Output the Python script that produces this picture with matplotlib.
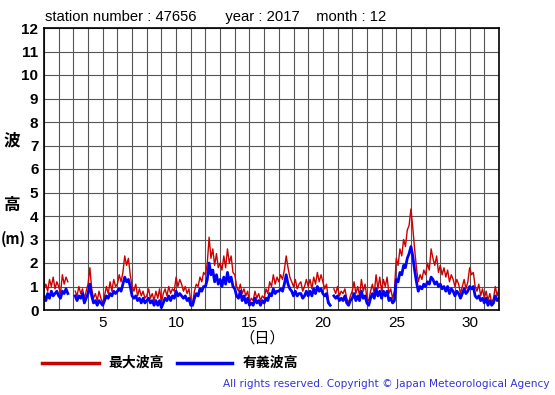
import matplotlib
matplotlib.use('Agg')
import matplotlib.pyplot as plt
import numpy as np

nan = np.nan
# 3-hourly values, 8 per day, day 1 00h .. day 32 00h
hmax = [
    0.9, 1.1, 0.8, 1.3, 1.0, 1.4, 0.9, 1.2,   # 1
    1.0, 0.7, 1.5, 1.1, 1.4, 1.2, nan, nan,   # 2
    nan, 0.8, 0.6, 1.0, 0.7, 0.9, 0.5, 0.8,   # 3
    1.1, 1.8, 0.9, 0.5, 0.7, 0.4, 0.8, 0.5,   # 4
    0.3, 0.6, 1.0, 0.7, 1.2, 0.8, 1.3, 1.0,   # 5
    1.1, 1.5, 1.2, 1.6, 2.3, 1.9, 2.2, 1.5,   # 6
    1.0, 0.8, 1.1, 0.6, 0.9, 0.6, 0.8, 0.5,   # 7
    0.6, 0.9, 0.5, 0.7, 0.4, 0.8, 0.5, 0.9,   # 8
    0.3, 0.7, 0.9, 0.6, 1.0, 0.7, 0.9, 0.8,   # 9
    1.4, 1.0, 1.3, 1.1, 0.8, 1.0, 0.7, 0.9,   # 10
    0.4, 0.3, 0.8, 1.1, 1.0, 1.4, 1.2, 1.6,   # 11
    1.5, 2.0, 3.1, 2.2, 2.6, 1.9, 2.4, 1.8,   # 12
    2.0, 1.7, 2.3, 1.8, 2.6, 2.0, 2.3, 1.6,   # 13
    1.5, 1.0, 0.8, 1.1, 0.7, 0.9, 0.6, 0.8,   # 14
    0.3, 0.5, 0.4, 0.8, 0.5, 0.7, 0.4, 0.6,   # 15
    0.5, 0.9, 0.7, 1.2, 1.0, 1.5, 1.1, 1.4,   # 16
    1.2, 1.5, 1.3, 1.7, 2.3, 1.8, 1.4, 1.2,   # 17
    1.0, 1.3, 0.9, 1.1, 1.2, 0.8, 1.0, 1.3,   # 18
    1.0, 1.3, 0.9, 1.4, 1.1, 1.6, 1.2, 1.5,   # 19
    1.2, 0.9, 1.1, 0.4, 0.2, nan, 0.9, 0.7,   # 20
    1.0, 0.6, 0.8, 0.7, 0.9, 0.5, 0.3, 0.6,   # 21
    0.8, 1.2, 0.7, 1.0, 0.6, 1.3, 0.8, 1.1,   # 22
    0.5, 0.4, 0.8, 1.1, 0.7, 1.5, 0.9, 1.4,   # 23
    0.8, 1.3, 1.0, 1.4, 0.7, 0.9, 0.5, 0.8,   # 24
    2.2, 1.9, 2.6, 2.3, 3.0, 2.7, 3.4, 3.6,   # 25
    4.3, 3.5, 2.6, 1.8, 1.2, 1.5, 1.3, 1.7,   # 26
    1.5, 2.0, 1.7, 2.6, 2.2, 1.9, 2.3, 1.6,   # 27
    1.9, 1.5, 1.8, 1.4, 1.7, 1.2, 1.5, 1.3,   # 28
    1.0, 1.3, 1.1, 0.7, 1.0, 1.3, 0.9, 1.2,   # 29
    1.8, 1.5, 1.6, 1.0, 0.8, 1.1, 0.6, 0.9,   # 30
    0.5, 0.8, 0.4, 0.7, 0.3, 0.5, 1.0, 0.6,   # 31
    0.9,
]
hsig = [
    0.6, 0.4, 0.7, 0.5, 0.8, 0.6, 0.7, 0.8,   # 1
    0.6, 0.5, 0.8, 0.7, 0.9, 0.7, nan, nan,   # 2
    nan, 0.6, 0.4, 0.6, 0.5, 0.7, 0.3, 0.5,   # 3
    0.7, 1.1, 0.6, 0.3, 0.4, 0.2, 0.4, 0.3,   # 4
    0.2, 0.4, 0.6, 0.5, 0.7, 0.6, 0.8, 0.7,   # 5
    0.8, 0.9, 0.8, 1.1, 1.4, 1.2, 1.3, 1.0,   # 6
    0.6, 0.5, 0.6, 0.4, 0.5, 0.3, 0.5, 0.3,   # 7
    0.4, 0.5, 0.3, 0.4, 0.2, 0.4, 0.2, 0.4,   # 8
    0.1, 0.3, 0.5, 0.4, 0.6, 0.4, 0.6, 0.5,   # 9
    0.8, 0.6, 0.7, 0.6, 0.5, 0.6, 0.4, 0.5,   # 10
    0.2, 0.2, 0.5, 0.7, 0.6, 0.9, 0.8, 1.0,   # 11
    1.0, 1.3, 2.0, 1.5, 1.7, 1.2, 1.5, 1.1,   # 12
    1.3, 1.0, 1.4, 1.1, 1.6, 1.2, 1.4, 1.0,   # 13
    0.9, 0.6, 0.5, 0.8, 0.4, 0.6, 0.3, 0.5,   # 14
    0.2, 0.3, 0.2, 0.5, 0.3, 0.4, 0.2, 0.4,   # 15
    0.3, 0.5, 0.4, 0.7, 0.6, 0.9, 0.7, 0.8,   # 16
    0.8, 0.9, 0.8, 1.1, 1.5, 1.1, 0.9, 0.8,   # 17
    0.6, 0.8, 0.6, 0.7, 0.7, 0.5, 0.6, 0.8,   # 18
    0.6, 0.8, 0.6, 0.9, 0.7, 1.0, 0.8, 0.9,   # 19
    0.7, 0.6, 0.7, 0.3, 0.2, nan, 0.6, 0.5,   # 20
    0.6, 0.4, 0.5, 0.4, 0.6, 0.3, 0.2, 0.4,   # 21
    0.5, 0.7, 0.4, 0.6, 0.4, 0.8, 0.5, 0.6,   # 22
    0.3, 0.2, 0.5, 0.7, 0.5, 0.9, 0.6, 0.8,   # 23
    0.5, 0.8, 0.6, 0.8, 0.4, 0.5, 0.3, 0.4,   # 24
    1.3, 1.2, 1.6, 1.5, 1.9, 1.8, 2.2, 2.4,   # 25
    2.7, 2.3, 1.7, 1.2, 0.8, 1.0, 0.9, 1.1,   # 26
    1.0, 1.2, 1.1, 1.4, 1.3, 1.1, 1.2, 1.0,   # 27
    1.1, 0.9, 1.0, 0.8, 1.0, 0.7, 0.9, 0.8,   # 28
    0.6, 0.8, 0.7, 0.5, 0.7, 0.9, 0.7, 0.8,   # 29
    1.0, 0.9, 1.0, 0.6, 0.5, 0.6, 0.4, 0.5,   # 30
    0.3, 0.5, 0.2, 0.4, 0.2, 0.3, 0.6, 0.4,   # 31
    0.5,
]
xticks = [5, 10, 15, 20, 25, 30]
yticks = list(range(0, 13))

days = 1 + np.arange(len(hmax)) / 8.0

jp = ['Noto Sans CJK JP', 'DejaVu Sans']
fig = plt.figure(figsize=(5.55, 3.95), dpi=100)
ax = fig.add_axes([44 / 555, 85 / 395, 455 / 555, 282 / 395])

ax.plot(days, hmax, color='#cc0000', lw=1.0)
ax.plot(days, hsig, color='#0000ff', lw=2.0)

ax.set_xlim(1, 32)
ax.set_ylim(0, 12)
ax.set_xticks(range(1, 33))
ax.set_xticklabels([str(d) if d in xticks else '' for d in range(1, 33)],
                   fontsize=11, family='Liberation Sans')
ax.set_yticks(yticks)
ax.set_yticklabels([str(v) for v in yticks], fontsize=11, fontweight='bold',
                   family='Liberation Sans')
ax.tick_params(length=0, pad=4)
ax.grid(True, color='#555555', lw=0.8)
for s in ax.spines.values():
    s.set_linewidth(1.2)

fig.text(45 / 555, 1 - 17 / 395, 'station number : 47656       year : 2017    month : 12',
         fontsize=10.6, family='Liberation Sans', va='center')
fig.text(12 / 555, 1 - 140 / 395, '波', fontsize=12, fontweight='bold', family=jp, ha='center', va='center')
fig.text(12 / 555, 1 - 205 / 395, '高', fontsize=12, fontweight='bold', family=jp, ha='center', va='center')
fig.text(13 / 555, 1 - 239 / 395, '(m)', fontsize=10.5, fontweight='bold', family=jp, ha='center', va='center')
fig.text(262 / 555, 1 - 338 / 395, '（日）', fontsize=11, family=jp, ha='center', va='center')

fig.add_artist(plt.Line2D([42 / 555, 99 / 555], [1 - 363 / 395] * 2, color='#cc0000', lw=2.5))
fig.text(108 / 555, 1 - 363 / 395, '最大波高', fontsize=10, fontweight='bold', family=jp, va='center')
fig.add_artist(plt.Line2D([177 / 555, 232 / 555], [1 - 363 / 395] * 2, color='#0000ff', lw=2.5))
fig.text(243 / 555, 1 - 363 / 395, '有義波高', fontsize=10, fontweight='bold', family=jp, va='center')
fig.text(550 / 555, 1 - 384 / 395, 'All rights reserved. Copyright \u00a9 Japan Meteorological Agency',
         fontsize=7.6, color='#3333dd', family='DejaVu Sans', ha='right', va='center')

fig.savefig('out.png', dpi=100)
